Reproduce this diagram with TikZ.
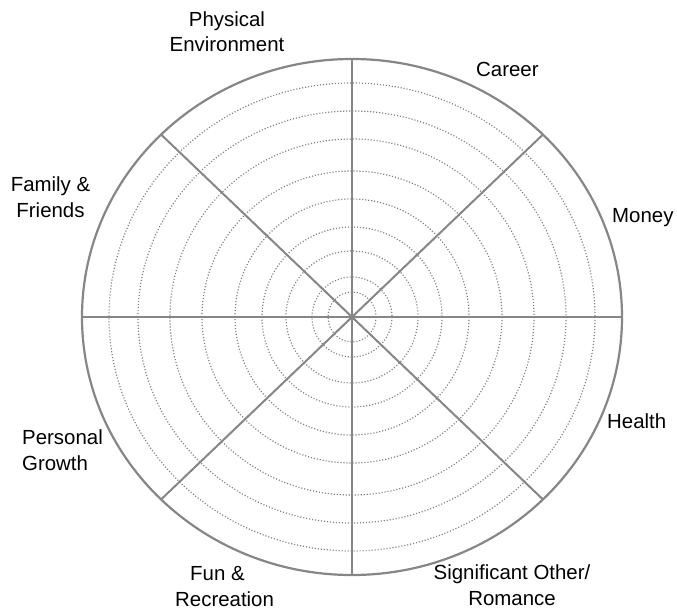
\documentclass[tikz,border=0pt]{standalone}
\usepackage{fontspec}
\setmainfont{Liberation Sans}
\usetikzlibrary{calc}
\begin{document}
\begin{tikzpicture}[x=1bp,y=-1bp,
  spoke/.style={draw=gray!95, line width=2bp},
  rim/.style={draw=gray!95, line width=2.2bp},
  ring/.style={draw=gray, line width=1.2bp, dash pattern=on 1.1bp off 1.9bp},
  lbl/.style={inner sep=0pt, font=\fontsize{20.5}{25.5}\selectfont, align=center}]
\useasboundingbox (0,0) rectangle (677,609);
\coordinate (c) at (352,317);
% dotted rings
\foreach \a/\b in {24/25,40/40,66/66,90/90,117/118,150/146,182/178,214/206,243/234}
  \draw[ring] (c) ellipse [x radius=\a, y radius=\b];
% spoke ends
\foreach \ang in {0,45,...,315}
  \coordinate (e\ang) at ($(c)+({270*cos(\ang)},{-258*sin(\ang)})$);
\foreach \ang in {0,45,...,315}
  \draw[spoke] (c) -- (e\ang);
\draw[rim] (c) ellipse [x radius=270, y radius=258];
% labels (base = baseline of last line)
\node[lbl, anchor=base] (phys) at (227,52) {Physical\\Environment};
\node[lbl, anchor=base west] (career) at (476,77) {Career};
\node[lbl, anchor=base west] (money) at (612,222) {Money};
\node[lbl, anchor=base west] (health) at (607,428) {Health};
\node[lbl, anchor=base] (sig) at (512,605) {Significant Other/\\Romance};
\node[lbl, anchor=base west, align=left] (fun) at (175,606) {\hspace*{15bp}Fun \&\\Recreation};
\node[lbl, anchor=base west, align=left] (pers) at (22,470) {Personal\\Growth};
\node[lbl, anchor=base] (fam) at (50.5,217) {Family \&\\Friends};
\end{tikzpicture}
\end{document}
